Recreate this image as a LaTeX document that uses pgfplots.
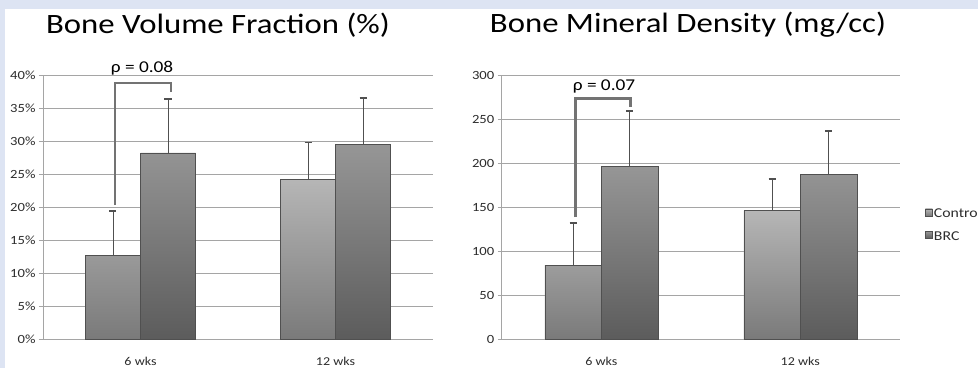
\documentclass[border=0pt]{standalone}
\usepackage{pgfplots}
\pgfplotsset{compat=1.18}
\usepackage{fontspec}
\setmainfont{Carlito}[FakeStretch=1.17]
\definecolor{bgblue}{RGB}{221,228,243}
\definecolor{gridgray}{RGB}{165,165,165}
\definecolor{ticktext}{RGB}{45,45,45}
\definecolor{ctop}{RGB}{182,182,182}
\definecolor{cbot}{RGB}{122,122,122}
\definecolor{btop}{RGB}{150,150,150}
\definecolor{bbot}{RGB}{92,92,92}
\definecolor{bardraw}{RGB}{80,80,80}
\definecolor{brack}{RGB}{115,115,115}

\pgfplotsset{
  bonestyle/.style={
    scale only axis, height=264pt,
    ybar=0pt,
    xmin=-0.5, xmax=1.5,
    xtick={0,1}, xticklabels={6 wks,12 wks},
    major x tick style={draw=none},
    extra x ticks={-0.5,0.5,1.5}, extra x tick labels={},
    extra x tick style={major tick length=4pt, tick style={gridgray, line width=0.8pt}},
    axis x line*=bottom, axis y line*=left,
    axis line style={gridgray, line width=0.9pt, -},
    ymajorgrids, grid style={gridgray, line width=0.9pt},
    y tick style={gridgray, line width=0.8pt},
    tick align=outside, major tick length=4pt,
    /pgf/number format/assume math mode=true,
    ticklabel style={font=\fontsize{12.5}{14}\selectfont, text=ticktext},
    xticklabel style={yshift=-11pt, font=\fontsize{12}{14}\selectfont},
    clip=false,
    error bars/y dir=plus, error bars/y explicit,
    error bars/error bar style={line width=0.8pt, color=bardraw},
    error bars/error mark options={rotate=90, line width=1.6pt, color=bardraw, mark size=3.5pt},
  },
  ctrl/.style={draw=bardraw, line width=0.6pt, top color=ctop, bottom color=cbot},
  brc/.style={draw=bardraw, line width=0.6pt, top color=btop, bottom color=bbot},
}

\begin{document}
\begin{tikzpicture}[x=1pt,y=1pt]
\clip (0,0) rectangle (978,368);
\fill[bgblue] (0,0) rectangle (978,368);
\fill[white] (5,0) rectangle (978,359);

\node[font=\fontsize{28}{30}\selectfont] at (218,343) {Bone Volume Fraction (\%)};
\node[font=\fontsize{28}{30}\selectfont] at (688,343) {Bone Mineral Density (mg/cc)};

% Left chart
\begin{axis}[bonestyle, at={(43pt,29pt)}, anchor=south west, width=390pt,
  bar width=55pt,
  ymin=0, ymax=40, ytick={0,5,...,40},
  yticklabel={\pgfmathprintnumber{\tick}\%}]
\addplot[ctrl] coordinates {(0,12.7) +- (0,6.7) (1,24.2) +- (0,5.6)};
\addplot[brc] coordinates {(0,28.2) +- (0,8.2) (1,29.5) +- (0,7.0)};
\draw[brack, line width=2.8pt] (axis cs:-0.131,20.3) -- (axis cs:-0.131,38.8) -- (axis cs:0.156,38.8) -- (axis cs:0.156,37.4);
\node[font=\fontsize{16.5}{18}\selectfont] at (axis cs:0.008,41.1) {ρ = 0.08};
\end{axis}

% Right chart
\begin{axis}[bonestyle, at={(501.8pt,29pt)}, anchor=south west, width=398pt,
  bar width=56.5pt,
  ymin=0, ymax=300, ytick={0,50,...,300},
  legend style={at={(axis description cs:1.063,0.432)}, anchor=west, draw=none, fill=none,
    font=\fontsize{13.5}{15}\selectfont, text=ticktext, row sep=8pt, inner sep=0pt,
    legend cell align=left, nodes={inner xsep=1.5pt}},
  legend image code/.code={\draw[#1, line width=0.4pt] (0pt,-2pt) rectangle (7pt,5pt);}]
\addplot[ctrl] coordinates {(0,84) +- (0,48) (1,146) +- (0,36)};
\addplot[brc] coordinates {(0,196) +- (0,63) (1,187.5) +- (0,49)};
\draw[brack, line width=2.8pt] (axis cs:-0.129,138.6) -- (axis cs:-0.129,273.5) -- (axis cs:0.146,273.5) -- (axis cs:0.146,263.6);
\node[font=\fontsize{16.5}{18}\selectfont] at (axis cs:0.0136,287.5) {ρ = 0.07};
\legend{Control,BRC}
\end{axis}
\end{tikzpicture}
\end{document}
